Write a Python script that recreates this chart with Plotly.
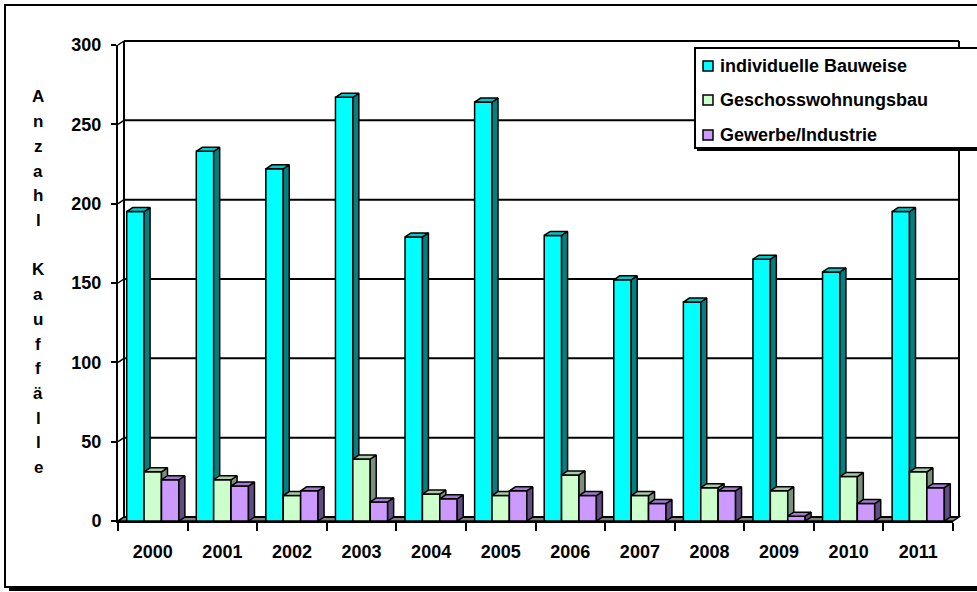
import plotly.graph_objects as go

# ---------------- data ----------------
years = [2000, 2001, 2002, 2003, 2004, 2005, 2006, 2007, 2008, 2009, 2010, 2011]
year_labels = [str(y) for y in years]
individuelle = [195, 233, 222, 267, 179, 264, 180, 152, 138, 165, 157, 195]
geschoss = [31, 26, 16, 39, 17, 16, 29, 16, 21, 19, 28, 31]
gewerbe = [26, 22, 19, 12, 14, 19, 16, 11, 19, 3, 11, 21]
series_names = ["individuelle Bauweise", "Geschosswohnungsbau", "Gewerbe/Industrie"]
y_ticks = [0, 50, 100, 150, 200, 250, 300]
y_title = "Anzahl Kauffälle"

# ---------------- style ----------------
W, H = 977, 592
L, R, T, B = 118, 24, 45, 71
PW, PH = W - L - R, H - T - B
FONT = "Arial, Liberation Sans, sans-serif"
front = ["#00FFFF", "#CCFFCC", "#CC99FF"]
side = ["#008080", "#7A907A", "#604C80"]
top = ["#00C8C8", "#A6CCA6", "#A37ACC"]
x_range = [years[0] - 0.5, years[-1] + 0.5]
y_range = [0, 300]
bar_w = 0.25
DXP, DYP = 6, 4  # 3-D depth in pixels
dxu = DXP * (x_range[1] - x_range[0]) / PW
dyu = DYP * (y_range[1] - y_range[0]) / PH


def px(xp):
    return (xp - L) / PW


def py(yp):
    return (H - B - yp) / PH


def ypix(v):
    return H - B - (v - y_range[0]) / (y_range[1] - y_range[0]) * PH


fig = go.Figure()
all_vals = [individuelle, geschoss, gewerbe]
for i, vals in enumerate(all_vals):
    xa = "x" if i == 0 else f"x{i+1}"
    ya = "y" if i == 0 else f"y{i+1}"
    off = -0.375 + bar_w * i
    fig.add_trace(go.Bar(
        x=years, y=vals, width=bar_w, offset=off, name=series_names[i],
        marker=dict(color=front[i], line=dict(color="black", width=1.5)),
        xaxis=xa, yaxis=ya, showlegend=False))
    sx, sy, tx, ty = [], [], [], []
    for yr, v in zip(years, vals):
        xl = yr + off
        xr = xl + bar_w
        sx += [xr, xr + dxu, xr + dxu, xr, xr, None]
        sy += [0, dyu, v + dyu, v, 0, None]
        tx += [xl, xr, xr + dxu, xl + dxu, xl, None]
        ty += [v, v, v + dyu, v + dyu, v, None]
    fig.add_trace(go.Scatter(x=sx, y=sy, mode="lines", fill="toself",
                             fillcolor=side[i], line=dict(color="black", width=1.5),
                             xaxis=xa, yaxis=ya, showlegend=False, hoverinfo="skip"))
    fig.add_trace(go.Scatter(x=tx, y=ty, mode="lines", fill="toself",
                             fillcolor=top[i], line=dict(color="black", width=1.5),
                             xaxis=xa, yaxis=ya, showlegend=False, hoverinfo="skip"))

shapes = []
# chart frame with shadow
shapes.append(dict(type="rect", xref="paper", yref="paper", layer="below",
                   x0=px(9), x1=px(995), y0=py(591), y1=py(9),
                   fillcolor="black", line=dict(width=0)))
shapes.append(dict(type="rect", xref="paper", yref="paper", layer="below",
                   x0=px(5), x1=px(990), y0=py(587), y1=py(5),
                   fillcolor="white", line=dict(color="black", width=2)))
# floor
x_left, x_right = L, W - R
shapes.append(dict(type="path", xref="paper", yref="paper", layer="below",
                   path=f"M{px(x_left)},{py(H-B)} L{px(x_right)},{py(H-B)} "
                        f"L{px(x_right+DXP)},{py(H-B-DYP)} L{px(x_left+DXP)},{py(H-B-DYP)} Z",
                   fillcolor="#808080", line=dict(color="black", width=1.5)))
# back-wall gridlines and left wall
for v in y_ticks:
    yb = ypix(v) - DYP
    shapes.append(dict(type="line", xref="paper", yref="paper", layer="below",
                       x0=px(x_left + DXP), x1=px(x_right + DXP), y0=py(yb), y1=py(yb),
                       line=dict(color="black", width=2)))
    shapes.append(dict(type="line", xref="paper", yref="paper", layer="below",
                       x0=px(x_left), x1=px(x_left + DXP), y0=py(ypix(v)), y1=py(yb),
                       line=dict(color="black", width=1.5)))
for xw in (x_left + DXP, x_right + DXP):
    shapes.append(dict(type="line", xref="paper", yref="paper", layer="below",
                       x0=px(xw), x1=px(xw), y0=py(ypix(0) - DYP), y1=py(ypix(300) - DYP),
                       line=dict(color="black", width=2)))

# legend (drawn)
lg_x0, lg_y0, lg_x1, lg_y1 = 695, 48, 990, 148
shapes.append(dict(type="rect", xref="paper", yref="paper", layer="above",
                   x0=px(lg_x0 + 2), x1=px(lg_x1 + 2), y0=py(lg_y1 + 3), y1=py(lg_y0 + 2),
                   fillcolor="black", line=dict(width=0)))
shapes.append(dict(type="rect", xref="paper", yref="paper", layer="above",
                   x0=px(lg_x0), x1=px(lg_x1), y0=py(lg_y1), y1=py(lg_y0),
                   fillcolor="white", line=dict(color="black", width=2)))
annotations = []
legend_rows = [66, 100, 135]
for i, name in enumerate(series_names):
    yc = legend_rows[i]
    shapes.append(dict(type="rect", xref="paper", yref="paper", layer="above",
                       x0=px(703), x1=px(713), y0=py(yc + 5), y1=py(yc - 5),
                       fillcolor=front[i], line=dict(color="black", width=1.5)))
    annotations.append(dict(xref="paper", yref="paper", x=px(718), y=py(yc),
                            xanchor="left", yanchor="middle", showarrow=False,
                            text=f"<b>{name}</b>",
                            font=dict(family=FONT, size=18, color="black")))

# vertical y-axis title, one letter per line
step = 24.7
for k, ch in enumerate(y_title):
    if ch.strip() == "":
        continue
    annotations.append(dict(xref="paper", yref="paper", x=px(38), y=py(97 + k * step),
                            xanchor="center", yanchor="middle", showarrow=False,
                            text=f"<b>{ch}</b>",
                            font=dict(family=FONT, size=17, color="black")))

fig.update_layout(
    width=W, height=H,
    margin=dict(l=L, r=R, t=T, b=B, pad=0),
    paper_bgcolor="white", plot_bgcolor="rgba(0,0,0,0)",
    showlegend=False,
    font=dict(family=FONT, size=18, color="black"),
    xaxis=dict(range=x_range, tickmode="array", tickvals=years, ticktext=year_labels,
               ticks="", showgrid=False, zeroline=False,
               showline=True, linecolor="black", linewidth=2,
               ticklabelstandoff=13,
               tickfont=dict(family=FONT, size=18, color="black", weight="bold"),
               minor=dict(tickmode="linear", tick0=x_range[0], dtick=1, ticks="outside",
                          ticklen=8, tickwidth=2, tickcolor="black", showgrid=False)),
    yaxis=dict(range=y_range, tickmode="array", tickvals=y_ticks,
               ticks="outside", ticklen=5, tickwidth=2, tickcolor="black",
               showgrid=False, zeroline=False,
               showline=True, linecolor="black", linewidth=2,
               ticklabelstandoff=6,
               tickfont=dict(family=FONT, size=18, color="black", weight="bold")),
    xaxis2=dict(range=x_range, overlaying="x", visible=False),
    yaxis2=dict(range=y_range, overlaying="y", visible=False),
    xaxis3=dict(range=x_range, overlaying="x", visible=False),
    yaxis3=dict(range=y_range, overlaying="y", visible=False),
    shapes=shapes, annotations=annotations,
)

fig.write_html("out.html", config={"displayModeBar": False},
               post_script="document.body.style.margin='0';document.body.style.overflow='hidden';")
